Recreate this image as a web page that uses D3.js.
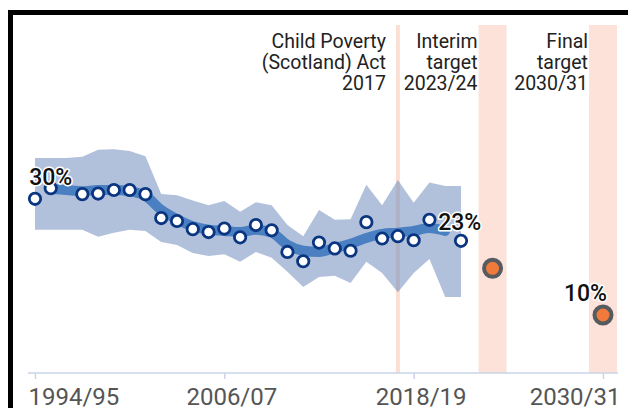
<!DOCTYPE html>
<html>
<head>
<meta charset="utf-8">
<script src="https://cdn.jsdelivr.net/npm/d3@7"></script>
<style>
  html, body { margin: 0; padding: 0; background: #fff; }
  svg { display: block; font-family: Roboto, "Noto Sans", sans-serif; }
</style>
</head>
<body>
<svg id="chart" width="628" height="408"></svg>
<script>
// ---- data ----
const years = [1994,1995,1996,1997,1998,1999,2000,2001,2002,2003,2004,2005,2006,2007,
               2008,2009,2010,2011,2012,2013,2014,2015,2016,2017,2018,2019,2020,2021];
const rate = [29.9,31.7,null,30.7,30.8,31.4,31.4,30.7,26.6,26.1,24.7,24.2,24.8,23.3,
              25.4,24.5,20.8,19.2,22.4,21.4,21.0,25.9,23.1,23.5,22.8,26.3,null,22.7];
const trend = [null,31.6,31.4,31.2,31.4,31.4,31.2,30.4,28.0,26.4,25.2,24.6,24.4,24.2,
               24.6,24.1,22.0,21.0,20.8,21.5,22.2,23.2,23.9,24.1,24.4,24.9,24.4,null];
const upper = [36.9,36.9,36.9,37.1,38.3,38.4,38.1,37.2,30.7,30.5,29.6,28.8,29.5,27.7,
               29.3,28.8,25.4,23.5,28.0,26.3,26.4,32.3,28.8,33.1,29.2,32.7,32.1,32.1];
const lower = [24.6,24.6,24.6,24.6,23.4,24.1,24.6,24.4,22.5,22.0,20.6,20.1,20.4,19.1,
               20.8,19.8,17.4,14.8,16.5,16.7,15.5,19.1,17.2,13.9,17.2,19.6,13.1,13.1];
const targetYears = [2023, 2030];
const targetValues = [18, 10];
const actYear = 2017;
const tickYears = [1994, 2006, 2018, 2030];
const tickLabels = ["1994/95", "2006/07", "2018/19", "2030/31"];
const annotActLines = ["Child Poverty", "(Scotland) Act", "2017"];
const annotInterimLines = ["Interim", "target", "2023/24"];
const annotFinalLines = ["Final", "target", "2030/31"];
const firstLabel = "30%";
const lastLabel = "23%";
const finalLabel = "10%";

// ---- layout ----
const svg = d3.select("#chart");
const x = d3.scaleLinear().domain([1994, 2030]).range([35, 603]);
const y = d3.scaleLinear().domain([0, 55]).range([373.4, 373.4 - 55 * 5.84]);
const bandTop = 25, axisY = 373, bandW = 28;

// frame
svg.append("rect").attr("x", 10.5).attr("y", 12.5).attr("width", 700).attr("height", 500)
  .attr("fill", "none").attr("stroke", "#000").attr("stroke-width", 5);

// pink target bands and act line
svg.append("rect").attr("x", x(actYear) - 2).attr("y", bandTop).attr("width", 4)
  .attr("height", axisY - bandTop).attr("fill", "#fbdfd3");
svg.selectAll("rect.tband").data(targetYears).join("rect").attr("class", "tband")
  .attr("x", d => x(d) - bandW / 2).attr("y", bandTop).attr("width", bandW)
  .attr("height", axisY - bandTop).attr("fill", "#fce2d8");

// annotations
function annot(lines, xEnd) {
  const t = svg.append("text").attr("text-anchor", "end").attr("font-size", 19.5)
    .attr("fill", "#222");
  lines.forEach((l, i) => t.append("tspan").attr("x", xEnd).attr("y", 48 + i * 21).text(l));
}
annot(annotActLines, x(actYear) - 12);
annot(annotInterimLines, x(targetYears[0]) - 15);
annot(annotFinalLines, x(targetYears[1]) - 15);

// axis
svg.append("line").attr("x1", x(1994) - 7).attr("x2", x(2030) + 15)
  .attr("y1", axisY).attr("y2", axisY).attr("stroke", "#cad5e8").attr("stroke-width", 1.5);
const axis = d3.axisBottom(x).tickValues(tickYears)
  .tickFormat((d, i) => tickLabels[i]).tickSize(6).tickSizeOuter(0).tickPadding(10);
const gAxis = svg.append("g").attr("transform", `translate(0,${axisY})`).call(axis);
gAxis.select(".domain").remove();
gAxis.selectAll(".tick line").attr("stroke", "#cad5e8").attr("stroke-width", 1.5);
gAxis.selectAll(".tick text").attr("font-size", 24).attr("fill", "#555")
  .attr("font-family", "Roboto, sans-serif").attr("dy", "0.71em").attr("y", 15)
  .attr("text-anchor", (d, i) => i === 0 ? "start" : (i === tickYears.length - 1 ? "end" : "middle"))
  .attr("dx", (d, i) => i === 0 ? -7 : (i === tickYears.length - 1 ? 17 : 7));

// confidence band
const idx = years.map((d, i) => i);
svg.append("path").datum(idx)
  .attr("d", d3.area().x(i => x(years[i])).y0(i => y(lower[i])).y1(i => y(upper[i])))
  .attr("fill", "#6383b8").attr("fill-opacity", 0.5);

// trend line
svg.append("path").datum(idx.filter(i => trend[i] != null))
  .attr("d", d3.line().x(i => x(years[i])).y(i => y(trend[i])).curve(d3.curveMonotoneX))
  .attr("fill", "none").attr("stroke", "#4a7fc1").attr("stroke-width", 10)
  .attr("stroke-linecap", "round").attr("stroke-linejoin", "round");

// points
svg.selectAll("circle.pt").data(idx.filter(i => rate[i] != null)).join("circle")
  .attr("class", "pt").attr("cx", i => x(years[i])).attr("cy", i => y(rate[i]))
  .attr("r", 5.7).attr("fill", "#fff").attr("stroke", "#0a3580").attr("stroke-width", 2.8);

// targets
svg.selectAll("circle.tg").data(targetYears).join("circle").attr("class", "tg")
  .attr("cx", d => x(d)).attr("cy", (d, i) => y(targetValues[i]))
  .attr("r", 8.5).attr("fill", "#f07a3a").attr("stroke", "#555b5f").attr("stroke-width", 4);

// value labels
function vlabel(txt, xx, yy, anchor) {
  svg.append("text").attr("x", xx).attr("y", yy).attr("text-anchor", anchor)
    .attr("font-size", 23).attr("font-weight", 500).attr("fill", "#111")
    .attr("stroke", "#fff").attr("stroke-width", 3).attr("paint-order", "stroke")
    .attr("stroke-linejoin", "round").text(txt);
}
vlabel(firstLabel, x(years[1]), y(trend[1]) - 4, "middle");
vlabel(lastLabel, x(years[26]) - 7, y(trend[26]) - 1, "start");
vlabel(finalLabel, x(targetYears[1]) + 4, y(targetValues[1]) - 14, "end");
</script>
</body>
</html>
